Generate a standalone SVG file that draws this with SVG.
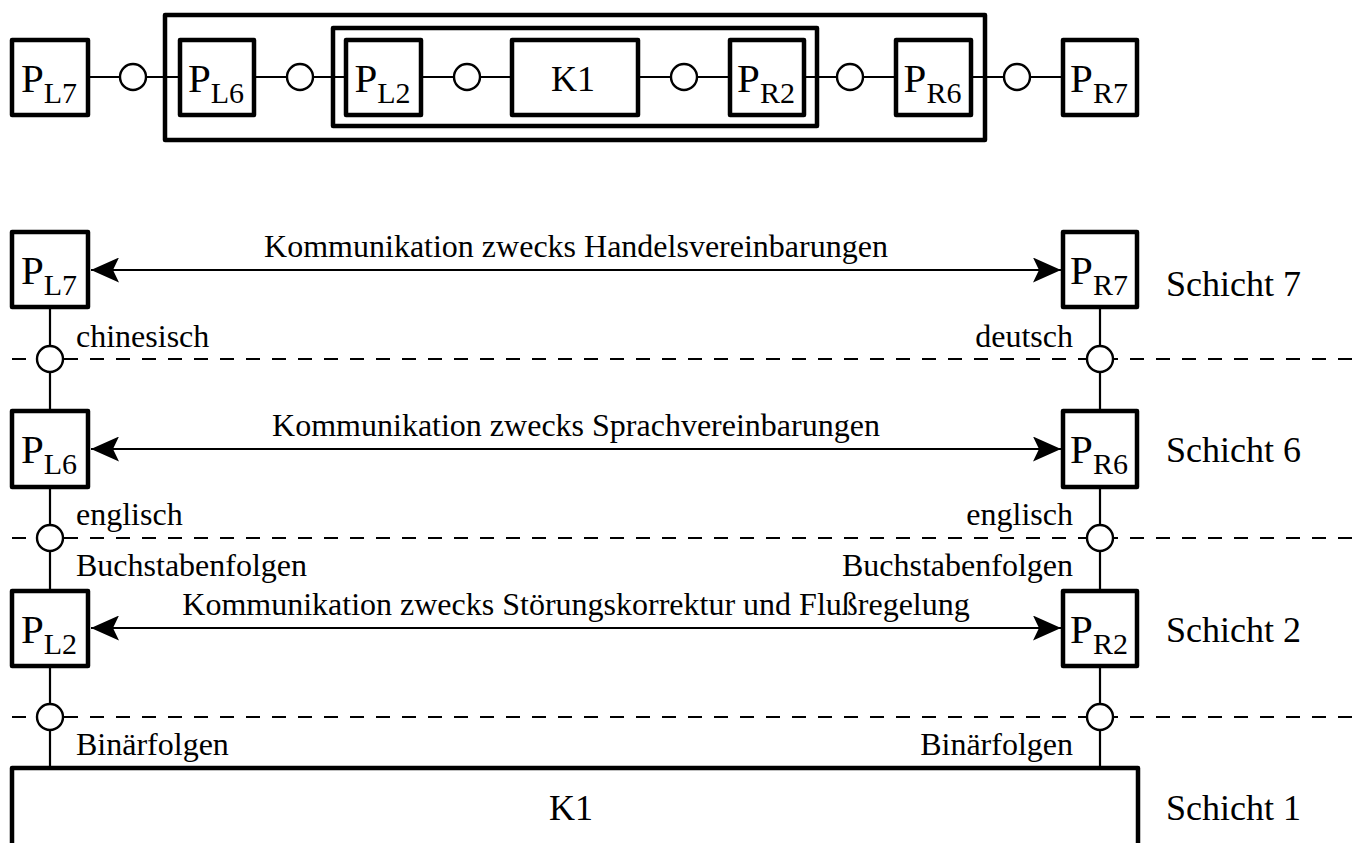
<svg xmlns="http://www.w3.org/2000/svg" width="1364" height="843" viewBox="0 0 1364 843">
  <style>
    .box { fill: #fff; stroke: #000; stroke-width: 4.5; stroke-linejoin: round; }
    .frame { fill: none; stroke: #000; stroke-width: 4.5; stroke-linejoin: round; }
    .ln { fill: none; stroke: #000; stroke-width: 2.2; }
    .dash { fill: none; stroke: #000; stroke-width: 2.2; stroke-dasharray: 14 12; }
    .sap { fill: #fff; stroke: #000; stroke-width: 2.4; }
    .arr { fill: none; stroke: #000; stroke-width: 2.2; marker-start: url(#head); marker-end: url(#head); }
    text { font-family: "Liberation Serif", "Times New Roman", serif; fill: #000; }
    .p { font-size: 41px; text-anchor: middle; }
    .sub { font-size: 30px; }
    .lbl { font-size: 32px; }
    .msg { font-size: 32px; text-anchor: middle; }
    .layer { font-size: 36px; }
    .k { font-size: 36px; text-anchor: middle; }
    .r { text-anchor: end; }
  </style>
  <defs>
    <marker id="head" viewBox="0 0 28 25" refX="28" refY="12.5" markerWidth="28" markerHeight="25" markerUnits="userSpaceOnUse" orient="auto-start-reverse">
      <path d="M0,0 L28,12.5 L0,25 L6,12.5 Z" fill="#000"/>
    </marker>
  </defs>

  <!-- Top: nested protocol chain -->
  <g id="frame-outer"><rect class="frame" x="165" y="15" width="820" height="125"/></g>
  <g id="frame-inner"><rect class="frame" x="333" y="28" width="484" height="98"/></g>

  <g id="chain-links">
    <path class="ln" d="M90,77 H178 M256,77 H344 M423,77 H510 M640,77 H728 M806,77 H894 M973,77 H1061"/>
    <circle class="sap" cx="133" cy="77" r="13"/>
    <circle class="sap" cx="300" cy="77" r="13"/>
    <circle class="sap" cx="467" cy="77" r="13"/>
    <circle class="sap" cx="684" cy="77" r="13"/>
    <circle class="sap" cx="850" cy="77" r="13"/>
    <circle class="sap" cx="1017" cy="77" r="13"/>
  </g>

  <g id="top-PL7"><rect class="box" x="12" y="40" width="76" height="75"/>
    <text class="p" x="49" y="92">P<tspan class="sub" dy="11">L7</tspan></text></g>
  <g id="top-PL6"><rect class="box" x="180" y="40" width="74" height="75"/>
    <text class="p" x="216" y="92">P<tspan class="sub" dy="11">L6</tspan></text></g>
  <g id="top-PL2"><rect class="box" x="346" y="40" width="75" height="75"/>
    <text class="p" x="382.5" y="92">P<tspan class="sub" dy="11">L2</tspan></text></g>
  <g id="top-K1"><rect class="box" x="512" y="40" width="126" height="75"/>
    <text class="k" x="573" y="91">K1</text></g>
  <g id="top-PR2"><rect class="box" x="730" y="40" width="74" height="75"/>
    <text class="p" x="766" y="92">P<tspan class="sub" dy="11">R2</tspan></text></g>
  <g id="top-PR6"><rect class="box" x="896" y="40" width="75" height="75"/>
    <text class="p" x="932.5" y="92">P<tspan class="sub" dy="11">R6</tspan></text></g>
  <g id="top-PR7"><rect class="box" x="1063" y="40" width="74" height="75"/>
    <text class="p" x="1099" y="92">P<tspan class="sub" dy="11">R7</tspan></text></g>

  <!-- Bottom: layered view -->
  <g id="connectors">
    <path class="dash" d="M12,359 H1364 M12,538 H1364 M12,717 H1364"/>
    <path class="ln" d="M50,309 V409 M50,489 V589 M50,668 V768 M1100,309 V409 M1100,489 V589 M1100,668 V768"/>
    <circle class="sap" cx="50" cy="359" r="13"/>
    <circle class="sap" cx="50" cy="538" r="13"/>
    <circle class="sap" cx="50" cy="717" r="13"/>
    <circle class="sap" cx="1100" cy="359" r="13"/>
    <circle class="sap" cx="1100" cy="538" r="13"/>
    <circle class="sap" cx="1100" cy="717" r="13"/>
    <path class="arr" d="M91,270 H1061"/>
    <path class="arr" d="M91,449 H1061"/>
    <path class="arr" d="M91,628 H1061"/>
    <text class="msg" x="576" y="257">Kommunikation zwecks Handelsvereinbarungen</text>
    <text class="msg" x="576" y="436">Kommunikation zwecks Sprachvereinbarungen</text>
    <text class="msg" x="576" y="615">Kommunikation zwecks Störungskorrektur und Flußregelung</text>
    <text class="lbl" x="76" y="347">chinesisch</text>
    <text class="lbl" x="76" y="525">englisch</text>
    <text class="lbl" x="76" y="576">Buchstabenfolgen</text>
    <text class="lbl" x="76" y="755">Binärfolgen</text>
    <text class="lbl r" x="1073" y="347">deutsch</text>
    <text class="lbl r" x="1073" y="525">englisch</text>
    <text class="lbl r" x="1073" y="576">Buchstabenfolgen</text>
    <text class="lbl r" x="1073" y="755">Binärfolgen</text>
  </g>

  <g id="PL7"><rect class="box" x="12" y="232" width="76" height="75"/>
    <text class="p" x="49" y="284">P<tspan class="sub" dy="11">L7</tspan></text></g>
  <g id="PR7"><rect class="box" x="1063" y="232" width="74" height="75"/>
    <text class="p" x="1099" y="284">P<tspan class="sub" dy="11">R7</tspan></text></g>
  <g id="PL6"><rect class="box" x="12" y="411" width="76" height="76"/>
    <text class="p" x="49" y="463">P<tspan class="sub" dy="11">L6</tspan></text></g>
  <g id="PR6"><rect class="box" x="1063" y="411" width="74" height="76"/>
    <text class="p" x="1099" y="463">P<tspan class="sub" dy="11">R6</tspan></text></g>
  <g id="PL2"><rect class="box" x="12" y="591" width="76" height="75"/>
    <text class="p" x="49" y="643">P<tspan class="sub" dy="11">L2</tspan></text></g>
  <g id="PR2"><rect class="box" x="1063" y="591" width="74" height="75"/>
    <text class="p" x="1099" y="643">P<tspan class="sub" dy="11">R2</tspan></text></g>

  <g id="K1"><path class="frame" d="M12,848 V768 H1138 V848"/>
    <text class="k" x="571" y="820">K1</text></g>

  <g id="layers">
    <text class="layer" x="1166" y="296">Schicht 7</text>
    <text class="layer" x="1166" y="462">Schicht 6</text>
    <text class="layer" x="1166" y="642">Schicht 2</text>
    <text class="layer" x="1166" y="820">Schicht 1</text>
  </g>
</svg>
